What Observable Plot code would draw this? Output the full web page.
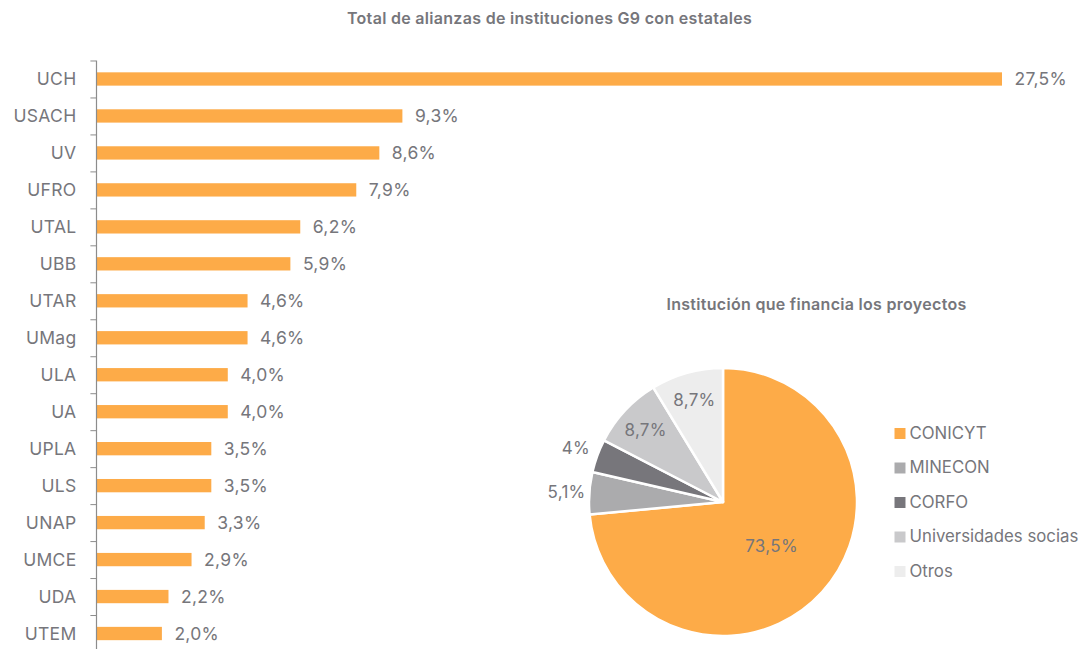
<!DOCTYPE html>
<html>
<head>
<meta charset="utf-8">
<script src="https://cdn.jsdelivr.net/npm/d3@7"></script>
<script src="https://cdn.jsdelivr.net/npm/@observablehq/plot@0.6"></script>
<style>
  html, body { margin: 0; padding: 0; background: #fff; overflow: hidden; }
  #wrap { position: relative; width: 1080px; height: 649px; overflow: hidden; font-family: Inter, "Noto Sans", sans-serif; }
  #bars { position: absolute; left: 0; top: 0; }
  #pie { position: absolute; left: 540px; top: 280px; }
  svg text { letter-spacing: 0.3px; }
  svg g.legend-text text { letter-spacing: 0; }
</style>
</head>
<body>
<div id="wrap"><div id="bars"></div><div id="pie"></div></div>
<script>
// ---- Data ----
const barTitle = "Total de alianzas de instituciones G9 con estatales";
const institutions = ["UCH","USACH","UV","UFRO","UTAL","UBB","UTAR","UMag","ULA","UA","UPLA","ULS","UNAP","UMCE","UDA","UTEM"];
const shares = [27.5, 9.3, 8.6, 7.9, 6.2, 5.9, 4.6, 4.6, 4.0, 4.0, 3.5, 3.5, 3.3, 2.9, 2.2, 2.0];

const pieTitle = "Institución que financia los proyectos";
const funders = ["CONICYT","MINECON","CORFO","Universidades socias","Otros"];
const funderShares = [73.5, 5.1, 4, 8.7, 8.7];
const funderColors = ["#FDAB48","#ABABAD","#77767B","#C9C9CB","#EDEDED"];

// ---- Styles ----
const textColor = "#76767b";
const barColor = "#FDAB48";
const fmt = v => (Number.isInteger(v) ? String(v) : v.toFixed(1)).replace(".", ",") + "%";
const fmtBar = v => v.toFixed(1).replace(".", ",") + "%";

const barData = institutions.map((name, i) => ({name, value: shares[i]}));
const pieData = funders.map((name, i) => ({name, value: funderShares[i]}));

const barPlot = Plot.plot({
  width: 1080,
  height: 652,
  marginLeft: 96,
  marginRight: 78,
  marginTop: 60.5,
  marginBottom: 0,
  style: {fontFamily: "Inter, 'Noto Sans', sans-serif", background: "transparent", overflow: "visible"},
  x: {domain: [0, 27.5], axis: null},
  y: {domain: institutions, paddingInner: 0.64, paddingOuter: 0.32, round: false, axis: null, label: null},
  marks: [
    Plot.barX(barData, {x: "value", y: "name", fill: barColor}),
    Plot.text(barData, {x: "value", y: "name", text: d => fmtBar(d.value), dx: 12, textAnchor: "start", fill: textColor, fontSize: 17.5}),
    Plot.axisY({tickSize: 0, tickPadding: 20, fontSize: 17.5, color: textColor, textAnchor: "end", label: null}),
    Plot.ruleY(institutions, {y: d => d, dy: -18.5, x1: -0.17, x2: 0, stroke: "#8c8c8c", strokeWidth: 1}),
    Plot.ruleX([0], {stroke: "#8c8c8c", strokeWidth: 1.2}),
    Plot.text([barTitle], {frameAnchor: "top", dy: -42.5, lineAnchor: "middle", fontSize: 16, fontWeight: 600, fill: textColor})
  ]
});
document.getElementById("bars").append(barPlot);

const pieMark = (index, scales, values, dims) => {
  const cx = 183, cy = 222, r = 134;
  const color = scales.color || d3.scaleOrdinal(funders, funderColors);
  const arcs = d3.pie().sort(null).value(d => d.value)(pieData);
  const g = d3.create("svg:g").attr("transform", `translate(${cx},${cy})`);
  const arc = d3.arc().innerRadius(0).outerRadius(r);
  g.selectAll("path").data(arcs).join("path")
    .attr("d", arc)
    .attr("fill", d => color(d.data.name))
    .attr("stroke", "#fff")
    .attr("stroke-width", 2.5)
    .attr("stroke-linejoin", "round");
  const lr = d => d.data.value > 20 ? 0.49 * r : d.data.value >= 8 ? 0.79 * r : 1.17 * r;
  g.selectAll("text").data(arcs).join("text")
    .attr("transform", d => {
      const a = (d.startAngle + d.endAngle) / 2;
      return `translate(${Math.sin(a) * lr(d)},${-Math.cos(a) * lr(d)})`;
    })
    .attr("text-anchor", "middle")
    .attr("dy", "0.35em")
    .attr("fill", textColor)
    .attr("font-size", 17)
    .text(d => fmt(d.data.value));
  return g.node();
};

const piePlot = Plot.plot({
  width: 540,
  height: 369,
  margin: 0,
  style: {fontFamily: "Inter, 'Noto Sans', sans-serif", background: "transparent", overflow: "visible"},
  y: {domain: funders, type: "point", range: [153, 291], padding: 0, round: false, axis: null, label: null},
  color: {domain: funders, range: funderColors},
  marks: [
    pieMark,
    Plot.dot(funders, {y: d => d, fill: d => d, symbol: "square", r: 6.2, frameAnchor: "left", dx: 359.5}),
    Plot.text(funders, {y: d => d, text: d => d, frameAnchor: "left", dx: 369, textAnchor: "start", fill: textColor, fontSize: 16.8, className: "legend-text"}),
    Plot.text([pieTitle], {frameAnchor: "top-left", dx: 276, dy: 24, textAnchor: "middle", lineAnchor: "middle", fontSize: 16, fontWeight: 600, fill: textColor})
  ]
});
document.getElementById("pie").append(piePlot);
</script>
</body>
</html>
